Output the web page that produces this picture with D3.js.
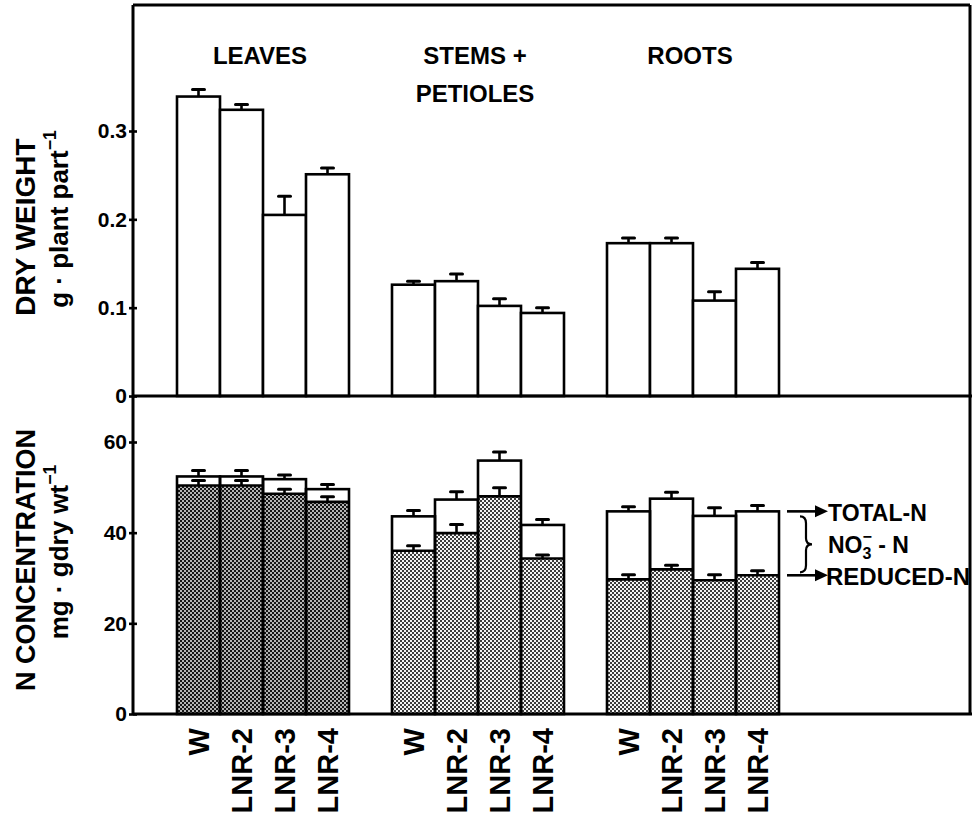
<!DOCTYPE html>
<html>
<head>
<meta charset="utf-8">
<script src="https://cdn.jsdelivr.net/npm/d3@7/dist/d3.min.js"></script>
<style>
  body { margin: 0; background: #fff; }
  svg { display: block; }
  text { font-family: "Liberation Sans", Arial, sans-serif; font-weight: bold; fill: #000; }
</style>
</head>
<body>
<svg width="972" height="820"></svg>
<script>
// plant parts and lines
var groups = [["LEAVES"], ["STEMS +", "PETIOLES"], ["ROOTS"]];
var lines = ["W", "LNR-2", "LNR-3", "LNR-4"];

// dry weight, g per plant part (upper panel)
var dryWeight   = [[0.339, 0.324, 0.205, 0.251], [0.126, 0.130, 0.102, 0.094], [0.173, 0.173, 0.108, 0.144]];
var dryWeightSE = [[0.008, 0.006, 0.021, 0.007], [0.004, 0.008, 0.008, 0.006], [0.006, 0.006, 0.010, 0.007]];

// N concentration, mg per g dry wt (lower panel)
var totalN     = [[52.4, 52.4, 51.8, 49.6], [43.6, 47.3, 55.9, 41.7], [44.7, 47.5, 43.7, 44.7]];
var totalNSE   = [[1.3, 1.3, 0.9, 1.0], [1.3, 1.7, 1.9, 1.2], [1.0, 1.4, 1.8, 1.3]];
var reducedN   = [[50.4, 50.4, 48.6, 46.8], [36.0, 39.9, 48.0, 34.3], [29.7, 31.9, 29.5, 30.6]];
var reducedNSE = [[1.1, 1.1, 1.0, 1.1], [1.1, 1.9, 1.9, 0.8], [1.0, 0.9, 1.2, 1.0]];

var upperTicks = [0, 0.1, 0.2, 0.3];
var lowerTicks = [0, 20, 40, 60];

var svg = d3.select("svg");

var frame = {left: 133, right: 970, top: 5, mid: 396, bottom: 714};

// one slot per bar, plus an empty slot between groups
var slots = [];
groups.forEach(function(g, gi) {
    if (gi > 0) slots.push("gap" + gi);
    lines.forEach(function(l) { slots.push(gi + "|" + l); });
});

var xScale = d3.scaleBand().domain(slots).range([177, 779]).padding(0);

var yTop = d3.scaleLinear().domain([0, 0.3]).range([frame.mid, 131]);
var yBot = d3.scaleLinear().domain([0, 60]).range([frame.bottom, 442]);

// halftone patterns
var defs = svg.append("defs");
function halftone(id, base, dot) {
    var p = defs.append("pattern").attr("id", id).attr("width", 4).attr("height", 4)
        .attr("patternUnits", "userSpaceOnUse");
    p.append("rect").attr("width", 4).attr("height", 4).attr("fill", base);
    p.append("rect").attr("width", 2).attr("height", 2).attr("fill", dot);
    p.append("rect").attr("x", 2).attr("y", 2).attr("width", 2).attr("height", 2).attr("fill", dot);
}
halftone("darkDots", "#b4b4b4", "#151515");
halftone("lightDots", "#f4f4f4", "#3c3c3c");

// flatten data
var barData = [];
groups.forEach(function(g, gi) {
    lines.forEach(function(l, li) {
        barData.push({
            key: gi + "|" + l, group: gi, line: l,
            dw: dryWeight[gi][li], dwSE: dryWeightSE[gi][li],
            tot: totalN[gi][li], totSE: totalNSE[gi][li],
            red: reducedN[gi][li], redSE: reducedNSE[gi][li]
        });
    });
});

var bw = xScale.bandwidth();
var stroke = 2.6;

function errorBar(g, x, y0, y1) {
    g.append("line").attr("x1", x).attr("x2", x).attr("y1", y0).attr("y2", y1)
        .attr("stroke", "#000").attr("stroke-width", 2.6);
    g.append("line").attr("x1", x - 6).attr("x2", x + 6).attr("y1", y1).attr("y2", y1)
        .attr("stroke", "#000").attr("stroke-width", 3).attr("stroke-linecap", "round");
}

// upper panel bars
var upper = svg.append("g");
upper.selectAll("rect").data(barData).enter().append("rect")
    .attr("x", function(d) { return xScale(d.key); })
    .attr("y", function(d) { return yTop(d.dw); })
    .attr("width", bw)
    .attr("height", function(d) { return yTop(0) - yTop(d.dw); })
    .attr("fill", "#fff").attr("stroke", "#000").attr("stroke-width", stroke);
barData.forEach(function(d) {
    var cx = xScale(d.key) + bw / 2;
    errorBar(upper, cx, yTop(d.dw), yTop(d.dw + d.dwSE));
});

// lower panel bars
var lower = svg.append("g");
lower.selectAll("rect.tot").data(barData).enter().append("rect").attr("class", "tot")
    .attr("x", function(d) { return xScale(d.key); })
    .attr("y", function(d) { return yBot(d.tot); })
    .attr("width", bw)
    .attr("height", function(d) { return yBot(0) - yBot(d.tot); })
    .attr("fill", "#fff");
lower.selectAll("rect.red").data(barData).enter().append("rect").attr("class", "red")
    .attr("x", function(d) { return xScale(d.key); })
    .attr("y", function(d) { return yBot(d.red); })
    .attr("width", bw)
    .attr("height", function(d) { return yBot(0) - yBot(d.red); })
    .attr("fill", function(d) { return d.group === 0 ? "url(#darkDots)" : "url(#lightDots)"; });
lower.selectAll("line.red").data(barData).enter().append("line").attr("class", "red")
    .attr("x1", function(d) { return xScale(d.key); })
    .attr("x2", function(d) { return xScale(d.key) + bw; })
    .attr("y1", function(d) { return yBot(d.red); })
    .attr("y2", function(d) { return yBot(d.red); })
    .attr("stroke", "#000").attr("stroke-width", stroke);
lower.selectAll("rect.outline").data(barData).enter().append("rect").attr("class", "outline")
    .attr("x", function(d) { return xScale(d.key); })
    .attr("y", function(d) { return yBot(d.tot); })
    .attr("width", bw)
    .attr("height", function(d) { return yBot(0) - yBot(d.tot); })
    .attr("fill", "none").attr("stroke", "#000").attr("stroke-width", stroke);
barData.forEach(function(d) {
    var cx = xScale(d.key) + bw / 2;
    errorBar(lower, cx, yBot(d.tot), yBot(d.tot + d.totSE));
    errorBar(lower, cx, yBot(d.red), yBot(d.red + d.redSE));
});

// frame
var fr = svg.append("g").attr("stroke", "#000").attr("stroke-width", 3).attr("fill", "none");
fr.append("line").attr("x1", frame.left).attr("x2", frame.left).attr("y1", frame.top).attr("y2", frame.bottom);
fr.append("line").attr("x1", frame.left).attr("x2", frame.right).attr("y1", frame.top).attr("y2", frame.top);
fr.append("line").attr("x1", frame.right).attr("x2", frame.right).attr("y1", frame.top).attr("y2", frame.bottom);
fr.append("line").attr("x1", frame.left).attr("x2", 972).attr("y1", frame.mid).attr("y2", frame.mid);
fr.append("line").attr("x1", frame.left).attr("x2", 972).attr("y1", frame.bottom).attr("y2", frame.bottom);

// y axes
function styleAxis(g) {
    g.select(".domain").remove();
    g.selectAll(".tick line").attr("x1", -4).attr("x2", 4).attr("stroke", "#000").attr("stroke-width", 2.6);
    g.selectAll(".tick text").attr("font-size", 21).attr("font-family", "Liberation Sans, Arial, sans-serif")
        .attr("font-weight", "bold");
}
svg.append("g").attr("transform", "translate(" + frame.left + ",0)")
    .call(d3.axisLeft(yTop).tickValues(upperTicks).tickSize(0).tickPadding(6)
        .tickFormat(function(d) { return d === 0 ? "0" : d3.format(".1f")(d); }))
    .call(styleAxis);
svg.append("g").attr("transform", "translate(" + frame.left + ",0)")
    .call(d3.axisLeft(yBot).tickValues(lowerTicks).tickSize(0).tickPadding(6))
    .call(styleAxis);

// y titles
function vTitle(x, y, size, main, sup) {
    var t = svg.append("text").attr("transform", "translate(" + x + "," + y + ") rotate(-90)")
        .attr("text-anchor", "middle").attr("font-size", size).text(main);
    if (sup) {
        t.append("tspan").attr("font-size", size * 0.68).attr("dy", -size * 0.45).text(sup);
    }
    return t;
}
vTitle(35, 227, 28, "DRY WEIGHT");
vTitle(68, 219, 26, "g · plant part", "−1");
vTitle(35, 560, 27, "N CONCENTRATION");
vTitle(68, 552, 26, "mg · gdry wt", "−1");

// group labels
groups.forEach(function(g, gi) {
    var x0 = xScale(gi + "|" + lines[0]);
    var x1 = xScale(gi + "|" + lines[lines.length - 1]) + bw;
    var t = svg.append("text").attr("x", (x0 + x1) / 2 - 3).attr("y", 64)
        .attr("text-anchor", "middle").attr("font-size", 24);
    g.forEach(function(s, i) {
        t.append("tspan").attr("x", (x0 + x1) / 2 - 3).attr("dy", i === 0 ? 0 : 38).text(s);
    });
});

// x labels
var xFont = 29;
svg.selectAll("text.xl").data(barData).enter().append("text").attr("class", "xl")
    .attr("transform", function(d) {
        return "translate(" + (xScale(d.key) + bw / 2 + xFont * 0.36) + ",728) rotate(-90)";
    })
    .attr("text-anchor", "end").attr("font-size", xFont)
    .text(function(d) { return d.line; });

// legend on the roots LNR-4 bar
var lg = svg.append("g");
var legX = xScale("2|" + lines[3]) + bw + 8;
var yTot = yBot(totalN[2][3]), yRed = yBot(reducedN[2][3]);
[yTot, yRed].forEach(function(y) {
    lg.append("line").attr("x1", legX).attr("x2", legX + 30).attr("y1", y).attr("y2", y)
        .attr("stroke", "#000").attr("stroke-width", 2.6);
    lg.append("path").attr("d", "M" + (legX + 28) + "," + (y - 6) + "L" + (legX + 41) + "," + y +
        "L" + (legX + 28) + "," + (y + 6) + "Z").attr("fill", "#000");
});
var bx = legX + 19, bt = yTot + 5, bb = yRed - 3, bm = (bt + bb) / 2;
lg.append("path")
    .attr("d", "M" + (bx - 6) + "," + bt + " Q" + bx + "," + bt + " " + bx + "," + (bt + 7) +
        " L" + bx + "," + (bm - 6) + " Q" + bx + "," + bm + " " + (bx + 6) + "," + bm +
        " Q" + bx + "," + bm + " " + bx + "," + (bm + 6) +
        " L" + bx + "," + (bb - 7) + " Q" + bx + "," + bb + " " + (bx - 6) + "," + bb)
    .attr("fill", "none").attr("stroke", "#000").attr("stroke-width", 2.2);
var tx = legX + 41;
lg.append("text").attr("x", tx).attr("y", yTot + 10).attr("font-size", 23).text("TOTAL-N");
var no3 = lg.append("text").attr("x", tx).attr("y", bm + 9).attr("font-size", 23).text("NO");
no3.append("tspan").attr("font-size", 16).attr("dy", 6).text("3");
no3.append("tspan").attr("font-size", 16).attr("dx", -9).attr("dy", -17).text("−");
no3.append("tspan").attr("font-size", 23).attr("dy", 11).text(" - N");
lg.append("text").attr("x", tx - 2).attr("y", yRed + 10).attr("font-size", 24).text("REDUCED-N");
</script>
</body>
</html>
